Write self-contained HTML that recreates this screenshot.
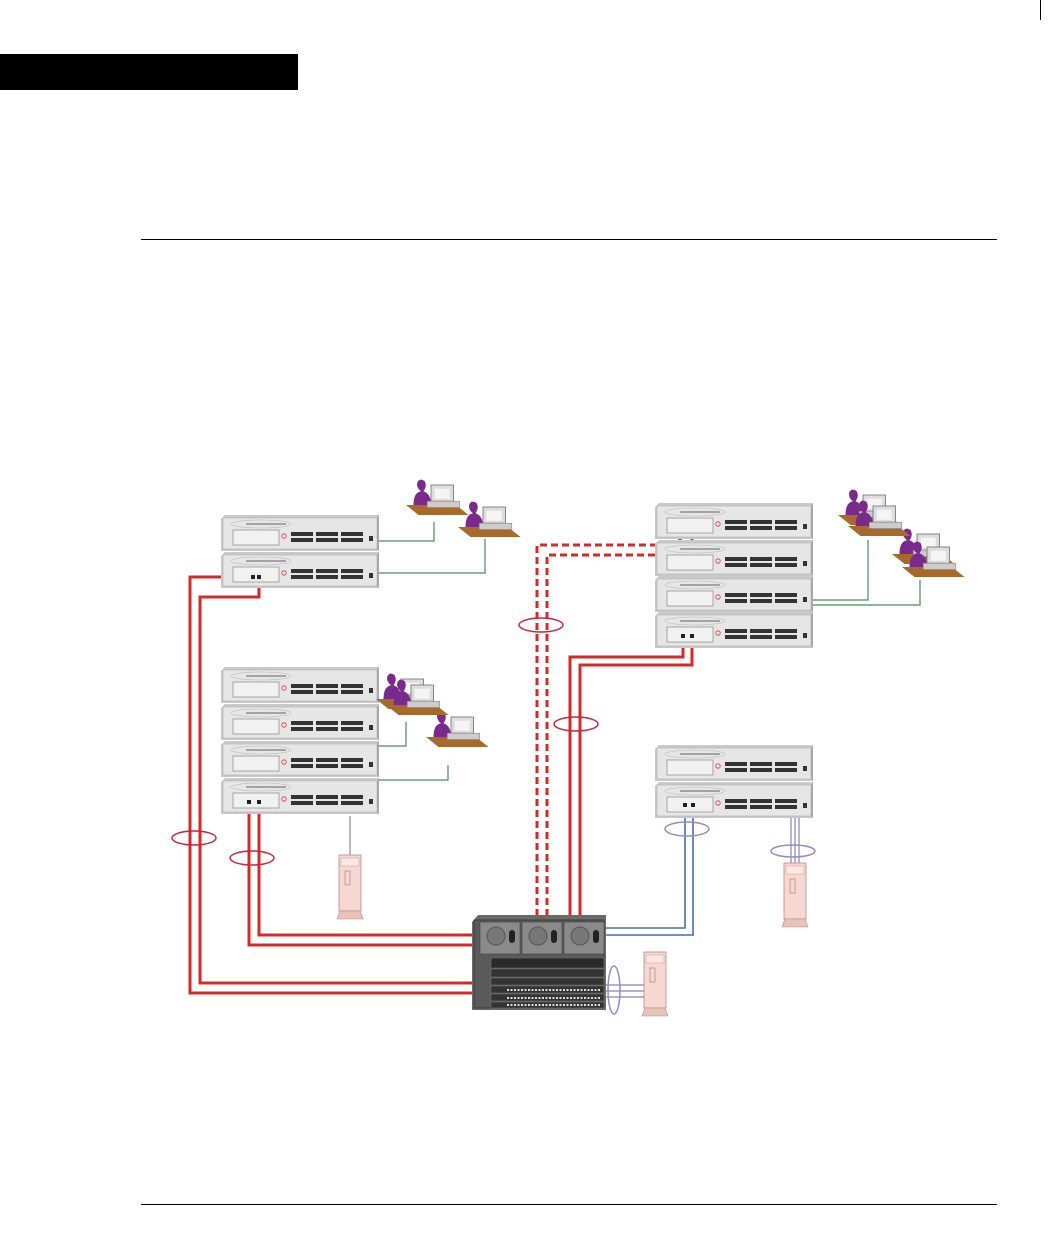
<!DOCTYPE html>
<html><head><meta charset="utf-8"><style>
html,body{margin:0;padding:0;background:#fff}
body{width:1048px;height:1246px;position:relative;overflow:hidden;font-family:"Liberation Sans",sans-serif}
</style></head><body>
<svg width="1048" height="1246" viewBox="0 0 1048 1246" xmlns="http://www.w3.org/2000/svg" style="position:absolute;left:0;top:0">
<defs>
<g id="sw">
  <polygon points="0,4 4,0 158,0 158,36 0,36" fill="#c9c9c9"/>
  <rect x="2" y="3" width="154" height="31" fill="#e6e6e6" stroke="#b0b0b0" stroke-width="0.6"/>
  <polygon points="156,3 158,0 158,36 156,34" fill="#a8a8a8"/>
  <ellipse cx="40" cy="9" rx="30" ry="4" fill="none" stroke="#bbb" stroke-width="0.6"/>
  <rect x="25" y="8" width="40" height="2" fill="#777" opacity="0.6"/>
  <rect x="12" y="15" width="46" height="15" fill="#f1f1f1" stroke="#888" stroke-width="0.7"/>
  <circle cx="63" cy="21" r="2.2" fill="none" stroke="#d33" stroke-width="0.8"/>
  <g fill="#333">
    <rect x="70" y="17" width="22" height="4"/><rect x="70" y="23" width="22" height="4"/>
    <rect x="95" y="17" width="22" height="4"/><rect x="95" y="23" width="22" height="4"/>
    <rect x="120" y="17" width="22" height="4"/><rect x="120" y="23" width="22" height="4"/>
    <rect x="148" y="21" width="4" height="5"/>
  </g>
</g>
<g id="ws0">
  <polygon points="0,20 40,20 50,28 10,28" fill="#a86a2c"/>
  <path d="M6,20 Q6,10 12,9 Q8,6 9,2 Q11,-2 15,1 Q17,5 14,9 Q20,11 20,20 Z" fill="#7a2a8a"/>
  <rect x="20" y="4" width="18" height="13" fill="#ddd" stroke="#777" stroke-width="0.7"/>
  <rect x="23" y="7" width="12" height="8" fill="#f5f5f5"/>
  <rect x="17" y="17" width="26" height="5" fill="#ccc" stroke="#888" stroke-width="0.5"/>
</g>
<g id="ws"><use href="#ws0" transform="translate(-4,-6) scale(1.25)"/></g>
<g id="srv">
  <rect x="2" y="0" width="22" height="56" fill="#f6d8d0" stroke="#b88" stroke-width="0.8"/>
  <rect x="4" y="3" width="18" height="8" fill="#fbe8e2" stroke="#c99" stroke-width="0.5"/>
  <rect x="8" y="16" width="5" height="14" fill="none" stroke="#a77" stroke-width="0.6"/>
  <polygon points="0,64 3,56 23,56 26,64" fill="#e9c3b8" stroke="#b88" stroke-width="0.6"/>
</g>
</defs>

<rect x="0" y="54" width="298" height="36" fill="#000"/>
<line x1="1040.5" y1="0" x2="1040.5" y2="20" stroke="#000" stroke-width="1"/>
<line x1="141" y1="239.5" x2="997" y2="239.5" stroke="#000" stroke-width="1"/>
<line x1="141" y1="1204.5" x2="997" y2="1204.5" stroke="#000" stroke-width="1"/>

<g fill="none" stroke="#4a8a5a" stroke-width="1.2">
  <path d="M378,541 H434 V522"/>
  <path d="M378,573 H485 V539"/>
  <path d="M378,746 H406 V722"/>
  <path d="M378,780 H448 V765"/>
  <path d="M812,600 H868 V540"/>
  <path d="M812,605 H920 V580"/>
</g>
<g fill="none" stroke="#8a80b8" stroke-width="1.2">
  <path d="M350,816 V855"/>
  <path d="M791,818 V863 M795,818 V863 M799,818 V863"/>
  <path d="M606,985 H645 M606,991 H645 M606,997 H645"/>
</g>
<g fill="none" stroke="#4a6ab8" stroke-width="1.6">
  <path d="M606,928 H685 V806"/>
  <path d="M606,935 H693 V806"/>
</g>
<g fill="none" stroke="#d42a2a" stroke-width="3">
  <path d="M253,577 H190 V993 H475"/>
  <path d="M259,577 V597 H200 V983 H475"/>
  <path d="M249,802 V945 H475"/>
  <path d="M259,802 V935 H475"/>
  <path d="M570,916 V657 H683 V637"/>
  <path d="M580,916 V665 H692 V637"/>
</g>
<g fill="none" stroke="#d42a2a" stroke-width="3" stroke-dasharray="7,4">
  <path d="M537,916 V545 H680 V525"/>
  <path d="M547,916 V555 H692 V525"/>
</g>
<g fill="none" stroke-width="1.5">
  <ellipse cx="194" cy="838" rx="22" ry="7" stroke="#c8283c"/>
  <ellipse cx="252" cy="858" rx="22" ry="7" stroke="#c8283c"/>
  <ellipse cx="541" cy="625" rx="22" ry="7" stroke="#c8283c"/>
  <ellipse cx="576" cy="724" rx="22" ry="7" stroke="#c8283c"/>
  <ellipse cx="687" cy="829" rx="22" ry="7" stroke="#9a88c0"/>
  <ellipse cx="793" cy="851" rx="22" ry="6" stroke="#9a88c0"/>
  <ellipse cx="614" cy="990" rx="6" ry="24" stroke="#9a88c0"/>
</g>

<use href="#sw" x="221" y="515"/><use href="#sw" x="221" y="552"/>
<use href="#sw" x="221" y="667"/><use href="#sw" x="221" y="704"/><use href="#sw" x="221" y="741"/><use href="#sw" x="221" y="778"/>
<use href="#sw" x="655" y="503"/><use href="#sw" x="655" y="540"/><use href="#sw" x="655" y="576"/><use href="#sw" x="655" y="612"/>
<use href="#sw" x="655" y="745"/><use href="#sw" x="655" y="782"/>
<g fill="#222"><rect x="251" y="575" width="4" height="4"/><rect x="257" y="575" width="4" height="4"/>
<rect x="247" y="800" width="4" height="4"/><rect x="257" y="800" width="4" height="4"/>
<rect x="681" y="634" width="4" height="4"/><rect x="690" y="634" width="4" height="4"/>
<rect x="683" y="803" width="4" height="4"/><rect x="691" y="803" width="4" height="4"/></g>

<use href="#ws" x="410" y="486"/><use href="#ws" x="462" y="508"/>
<use href="#ws" x="380" y="680"/><use href="#ws" x="430" y="718"/>
<use href="#ws" x="842" y="496"/><use href="#ws" x="896" y="535"/>
<use href="#ws" x="390" y="686"/><use href="#ws" x="852" y="507"/><use href="#ws" x="906" y="548"/>

<use href="#srv" x="337" y="855"/><use href="#srv" x="782" y="863"/><use href="#srv" x="642" y="952"/>

<g>
  <polygon points="472,922 478,915 606,915 606,1010 472,1010" fill="#6a6a6a"/>
  <rect x="474" y="920" width="130" height="88" fill="#5a5a5a" stroke="#333" stroke-width="0.8"/>
  <rect x="480" y="922" width="40" height="32" fill="#8a8a8a" stroke="#444" stroke-width="0.6"/>
  <rect x="522" y="922" width="40" height="32" fill="#8a8a8a" stroke="#444" stroke-width="0.6"/>
  <rect x="564" y="922" width="40" height="32" fill="#8a8a8a" stroke="#444" stroke-width="0.6"/>
  <circle cx="496" cy="936" r="9" fill="#777" stroke="#555"/><circle cx="538" cy="936" r="9" fill="#777" stroke="#555"/><circle cx="580" cy="936" r="9" fill="#777" stroke="#555"/>
  <rect x="509" y="930" width="6" height="13" rx="3" fill="#222"/><rect x="551" y="930" width="6" height="13" rx="3" fill="#222"/><rect x="593" y="930" width="6" height="13" rx="3" fill="#222"/>
  <rect x="491" y="958" width="113" height="10" fill="#2a2a2a" stroke="#777" stroke-width="0.5"/>
  <rect x="491" y="969" width="113" height="8" fill="#333" stroke="#777" stroke-width="0.5"/>
  <rect x="491" y="978" width="113" height="7" fill="#333" stroke="#777" stroke-width="0.5"/>
  <rect x="491" y="986" width="113" height="7" fill="#333" stroke="#777" stroke-width="0.5"/>
  <rect x="491" y="994" width="113" height="7" fill="#333" stroke="#777" stroke-width="0.5"/>
  <rect x="491" y="1002" width="113" height="6" fill="#333" stroke="#777" stroke-width="0.5"/>
  <g stroke="#ddd" stroke-width="2" stroke-dasharray="2,1.5">
    <line x1="507" y1="990" x2="600" y2="990"/><line x1="507" y1="998" x2="600" y2="998"/><line x1="507" y1="1005" x2="600" y2="1005"/>
  </g>
</g>
</svg>
</body></html>
